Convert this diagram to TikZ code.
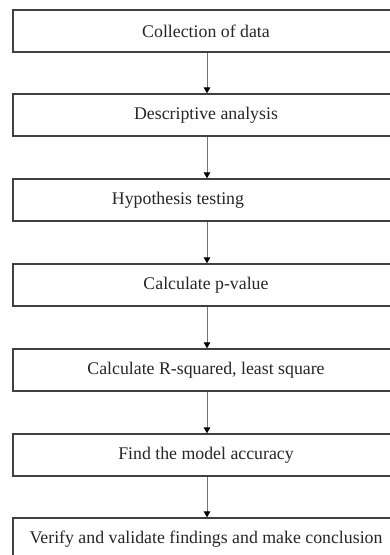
\documentclass[tikz,border=0pt]{standalone}
\usepackage{fontspec}
\setmainfont{Liberation Serif}
\usetikzlibrary{arrows.meta}
\begin{document}
\begin{tikzpicture}[x=1pt,y=-1pt,
  stepbox/.style={draw=black!75, line width=1.3pt, minimum width=386pt,
    minimum height=42pt, inner sep=0pt, fill=white,
    font=\fontsize{17.8}{20}\selectfont, text=black!85},
  flow/.style={draw=black!55, line width=0.8pt,
    -{Triangle[length=6pt,width=6.5pt,fill=black,color=black]}}]
\useasboundingbox (0,0) rectangle (390,555);
\clip (0,0) rectangle (390,555);
\fill[white] (0,0) rectangle (390,555);
\node[stepbox] (s1) at (206,31)  {Collection of data};
\node[stepbox] (s2) at (206,115) {Descriptive analysis};
\node[stepbox] (s3) at (206,200) {Hypothesis testing\hspace*{56pt}};
\node[stepbox] (s4) at (206,285) {Calculate p-value};
\node[stepbox] (s5) at (206,370) {Calculate R-squared, least square};
\node[stepbox] (s6) at (206,455) {Find the model accuracy};
\node[stepbox] (s7) at (206,539) {Verify and validate findings and make conclusion};
\foreach \a/\b in {s1/s2,s2/s3,s3/s4,s4/s5,s5/s6,s6/s7}
  \draw[flow] ([xshift=1pt]\a.south) -- ([xshift=1pt]\b.north);
\end{tikzpicture}
\end{document}
